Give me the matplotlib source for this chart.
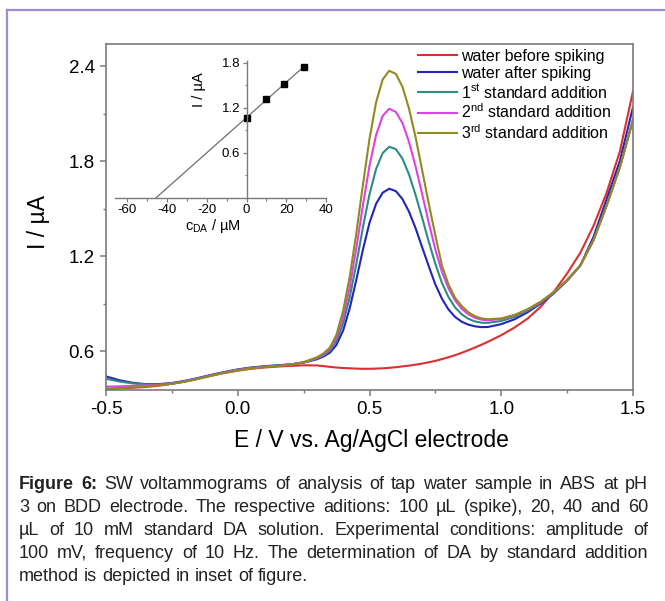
import numpy as np
import matplotlib
matplotlib.use("Agg")
import matplotlib.pyplot as plt
from matplotlib.lines import Line2D
from matplotlib.ticker import MultipleLocator, FuncFormatter

plt.rcParams['font.family'] = ['Liberation Sans', 'DejaVu Sans']
plt.rcParams['mathtext.fontset'] = 'custom'
plt.rcParams['mathtext.rm'] = 'Liberation Sans'
plt.rcParams['mathtext.it'] = 'Liberation Sans:italic'

# ---------------- data ----------------
E = [-0.5, -0.45, -0.4, -0.35, -0.3, -0.25, -0.2, -0.15, -0.1, -0.05, 0.0, 0.05,
     0.1, 0.15, 0.2, 0.25, 0.3,
     0.325, 0.35, 0.375, 0.4, 0.425, 0.45, 0.475, 0.5, 0.525, 0.55, 0.575, 0.6,
     0.625, 0.65, 0.675, 0.7, 0.725, 0.75, 0.775, 0.8, 0.825, 0.85, 0.875, 0.9,
     0.925, 0.95,
     1.0, 1.05, 1.1, 1.15, 1.2, 1.25, 1.3, 1.35, 1.4, 1.45, 1.5]

I_before = [0.360, 0.364, 0.368, 0.373, 0.381, 0.393, 0.408, 0.426, 0.445, 0.462, 0.476, 0.488,
            0.496, 0.502, 0.506, 0.510, 0.509,
            0.505, 0.500, 0.496, 0.493, 0.491, 0.489, 0.488, 0.488, 0.489, 0.491, 0.494, 0.498,
            0.503, 0.508, 0.514, 0.521, 0.529, 0.538, 0.549, 0.561, 0.574, 0.589, 0.605, 0.622,
            0.640, 0.659,
            0.700, 0.748, 0.805, 0.880, 0.975, 1.090, 1.220, 1.390, 1.600, 1.860, 2.240]

I_after = [0.440, 0.416, 0.400, 0.391, 0.391, 0.398, 0.412, 0.430, 0.450, 0.468, 0.484, 0.496,
           0.504, 0.510, 0.516, 0.527, 0.548,
           0.565, 0.590, 0.640, 0.730, 0.870, 1.050, 1.240, 1.410, 1.530, 1.600, 1.625, 1.610,
           1.560, 1.480, 1.375, 1.255, 1.135, 1.020, 0.930, 0.862, 0.815, 0.785, 0.767, 0.756,
           0.751, 0.752,
           0.770, 0.800, 0.845, 0.900, 0.965, 1.045, 1.140, 1.320, 1.560, 1.800, 2.140]

I_add1 = [0.425, 0.408, 0.396, 0.389, 0.389, 0.396, 0.410, 0.428, 0.448, 0.466, 0.482, 0.494,
          0.502, 0.508, 0.515, 0.528, 0.552,
          0.572, 0.602, 0.665, 0.775, 0.940, 1.150, 1.380, 1.590, 1.750, 1.850, 1.890, 1.875,
          1.815, 1.715, 1.585, 1.440, 1.290, 1.150, 1.030, 0.940, 0.875, 0.832, 0.804, 0.787,
          0.779, 0.778,
          0.790, 0.815, 0.855, 0.905, 0.968, 1.045, 1.140, 1.300, 1.520, 1.760, 2.060]

I_add2 = [0.375, 0.377, 0.380, 0.383, 0.386, 0.394, 0.408, 0.426, 0.446, 0.464, 0.480, 0.492,
          0.500, 0.506, 0.514, 0.529, 0.556,
          0.578, 0.612, 0.685, 0.815, 1.005, 1.250, 1.520, 1.770, 1.965, 2.085, 2.130, 2.110,
          2.040, 1.920, 1.765, 1.590, 1.410, 1.240, 1.100, 0.995, 0.920, 0.867, 0.832, 0.810,
          0.798, 0.794,
          0.802, 0.825, 0.862, 0.910, 0.972, 1.048, 1.140, 1.300, 1.520, 1.760, 2.060]

I_add3 = [0.362, 0.366, 0.371, 0.377, 0.384, 0.393, 0.406, 0.424, 0.444, 0.462, 0.478, 0.490,
          0.499, 0.505, 0.513, 0.530, 0.560,
          0.585, 0.622, 0.705, 0.855, 1.070, 1.345, 1.650, 1.940, 2.170, 2.315, 2.370, 2.350,
          2.270, 2.130, 1.950, 1.740, 1.530, 1.330, 1.140, 1.020, 0.935, 0.885, 0.845, 0.820,
          0.806, 0.801,
          0.806, 0.828, 0.864, 0.912, 0.974, 1.050, 1.140, 1.300, 1.520, 1.760, 2.060]

series_labels = ['water before spiking', 'water after spiking',
                 r'1$^{\mathrm{st}}$ standard addition',
                 r'2$^{\mathrm{nd}}$ standard addition',
                 r'3$^{\mathrm{rd}}$ standard addition']
series_colors = ['#dc2f2f', '#2424b8', '#2c8c80', '#e040e6', '#8e8c1e']

# inset (standard addition)
c_DA = [0, 10, 19, 29]
I_peak = [1.065, 1.32, 1.52, 1.75]

caption_lines = [
    "Figure 6: SW voltammograms of analysis of tap water sample in ABS at pH",
    "3 on BDD electrode. The respective aditions: 100 \u00b5L (spike), 20, 40 and 60",
    "\u00b5L of 10 mM standard DA solution. Experimental conditions: amplitude of",
    "100 mV, frequency of 10 Hz. The determination of DA by standard addition",
    "method is depicted in inset of figure.",
]
n_bold_words = 2

# ---------------- figure ----------------
W, H = 665, 601
fig = plt.figure(figsize=(W / 100, H / 100), dpi=100)
fig.patch.set_facecolor('white')

def fx(px):
    return px / W

def fy(py):
    return 1 - py / H

gray = '#7a7a7a'
fmt1 = FuncFormatter(lambda v, p: f"{v:.1f}")

ax = fig.add_axes([fx(106), fy(390), fx(633) - fx(106), fy(44) - fy(390)])
for I, lab, col in zip([I_before, I_after, I_add1, I_add2, I_add3], series_labels, series_colors):
    ax.plot(E, I, color=col, lw=1.5, label=lab, solid_joinstyle='round')
ax.set_xlim(-0.5, 1.5)
ax.set_ylim(0.354, 2.539)
ax.xaxis.set_major_locator(MultipleLocator(0.5))
ax.xaxis.set_minor_locator(MultipleLocator(0.25))
ax.yaxis.set_major_locator(MultipleLocator(0.6))
ax.yaxis.set_minor_locator(MultipleLocator(0.3))
ax.xaxis.set_major_formatter(fmt1)
ax.yaxis.set_major_formatter(fmt1)
for s in ax.spines.values():
    s.set_color(gray)
    s.set_linewidth(1.2)
ax.tick_params(which='major', direction='out', length=4, width=1.1, color=gray,
               labelsize=13.5, pad=4, top=False, right=False)
ax.tick_params(which='minor', direction='out', length=2.5, width=1.0, color=gray,
               top=False, right=False)

leg = ax.legend(loc='upper left', bbox_to_anchor=(fx(418), fy(49)),
                bbox_transform=fig.transFigure, frameon=False, fontsize=11.5,
                handlelength=2.45, handletextpad=0.25, labelspacing=0.12,
                borderpad=0, borderaxespad=0)

fig.text(fx(371), fy(440), 'E / V vs. Ag/AgCl electrode', ha='center', va='center',
         fontsize=16.5)
fig.text(fx(38), fy(222), 'I / \u00b5A', ha='center', va='center', rotation=90,
         fontsize=16.5)

# ---------------- inset ----------------
axi = fig.add_axes([fx(115.4), fy(198), fx(326) - fx(115.4), fy(60.7) - fy(198)])
axi.patch.set_alpha(0)
slope, icpt = np.polyfit(c_DA, I_peak, 1)
x_fit = np.array([-icpt / slope, max(c_DA)])
axi.plot(x_fit, slope * x_fit + icpt, color='#6e6e6e', lw=0.9)
axi.plot(c_DA, I_peak, 's', color='black', ms=5)
axi.set_xlim(-66, 40)
axi.set_ylim(0, 1.83)
axi.spines['left'].set_position(('data', 0))
axi.spines['top'].set_visible(False)
axi.spines['right'].set_visible(False)
for s in ('left', 'bottom'):
    axi.spines[s].set_color(gray)
    axi.spines[s].set_linewidth(1.0)
axi.set_xticks([-60, -40, -20, 0, 20, 40])
axi.xaxis.set_minor_locator(MultipleLocator(10))
axi.set_yticks([0.6, 1.2, 1.8])
axi.yaxis.set_minor_locator(MultipleLocator(0.3))
axi.yaxis.set_major_formatter(fmt1)
axi.xaxis.set_major_formatter(FuncFormatter(lambda v, p: f"{int(round(v))}"))
axi.tick_params(which='major', direction='out', length=3, width=0.9, color=gray,
                labelsize=9.5, pad=1.5)
axi.tick_params(which='minor', direction='out', length=1.8, width=0.8, color=gray)
fig.text(fx(199), fy(90), 'I / \u00b5A', ha='center', va='center', rotation=90,
         fontsize=10.5)
fig.text(fx(213), fy(226), 'c$_{\\mathrm{DA}}$ / \u00b5M',
         ha='center', va='center', fontsize=10.5)

# ---------------- frame ----------------
frame_col = '#a08bd6'
fig.add_artist(Line2D([fx(7), fx(7)], [0, fy(10)], transform=fig.transFigure,
                      color=frame_col, lw=1.6))
fig.add_artist(Line2D([fx(7), 1], [fy(10), fy(10)], transform=fig.transFigure,
                      color=frame_col, lw=1.6))

# ---------------- caption (justified) ----------------
renderer = fig.canvas.get_renderer()
cap_fs = 13
x_left, x_right = 19, 648
y_first, line_h = 489, 23

def text_w(s, weight):
    t = fig.text(0, 0, s, fontsize=cap_fs, fontweight=weight)
    w = t.get_window_extent(renderer).width
    t.remove()
    return w

space_w = text_w('a a', 'normal') - text_w('aa', 'normal')
word_idx = 0
for li, line in enumerate(caption_lines):
    words = line.split(' ')
    weights = []
    for w in words:
        weights.append('bold' if word_idx < n_bold_words else 'normal')
        word_idx += 1
    widths = [text_w(w, wt) for w, wt in zip(words, weights)]
    last = li == len(caption_lines) - 1
    if last or len(words) == 1:
        gap = space_w
    else:
        gap = (x_right - x_left - sum(widths)) / (len(words) - 1)
    x = x_left
    yb = y_first + li * line_h
    for w, wt, ww in zip(words, weights, widths):
        fig.text(fx(x), fy(yb), w, fontsize=cap_fs, fontweight=wt, va='baseline',
                 ha='left', color='#222222')
        x += ww + gap

fig.savefig('out.png', dpi=100, facecolor='white')
